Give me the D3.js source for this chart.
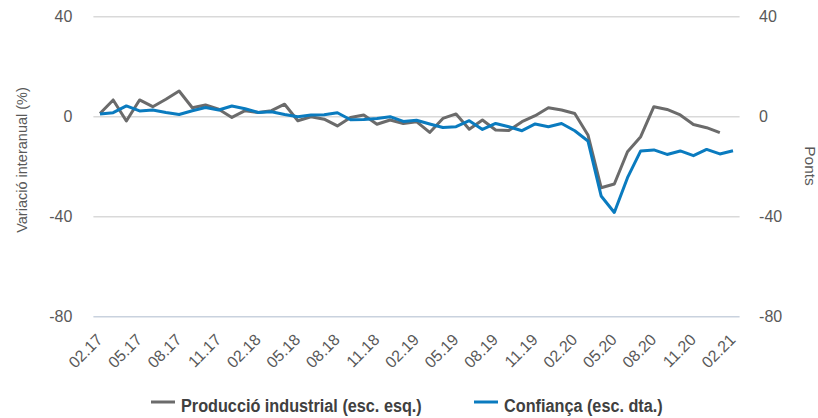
<!DOCTYPE html>
<html>
<head>
<meta charset="utf-8">
<script src="https://cdn.jsdelivr.net/npm/d3@7"></script>
<style>
  html, body { margin: 0; padding: 0; background: #fff; }
  svg { display: block; font-family: "Liberation Sans", Arial, sans-serif; }
</style>
</head>
<body>
<svg id="chart" width="818" height="418"></svg>
<script>
// Monthly periods, 02.17 to 02.21
const months = [
  "02.17","03.17","04.17","05.17","06.17","07.17","08.17","09.17","10.17","11.17","12.17","01.18",
  "02.18","03.18","04.18","05.18","06.18","07.18","08.18","09.18","10.18","11.18","12.18","01.19",
  "02.19","03.19","04.19","05.19","06.19","07.19","08.19","09.19","10.19","11.19","12.19","01.20",
  "02.20","03.20","04.20","05.20","06.20","07.20","08.20","09.20","10.20","11.20","12.20","01.21",
  "02.21"
];
// Labelled ticks on the x axis
const tickLabels = ["02.17","05.17","08.17","11.17","02.18","05.18","08.18","11.18","02.19",
  "05.19","08.19","11.19","02.20","05.20","08.20","11.20","02.21"];

// Industrial production, year-on-year change (%) — left scale, up to 01.21
const produccio = [
  1.3, 6.7, -1.7, 6.7, 4.0, 7.0, 10.3, 3.6, 4.7, 3.0, -0.3, 2.4,
  1.7, 2.4, 5.0, -1.6, 0.0, -1.0, -3.7, -0.3, 0.7, -3.0, -1.3, -2.7,
  -2.0, -6.3, -0.7, 1.1, -5.0, -1.3, -5.3, -5.5, -2.0, 0.4, 3.6, 2.7,
  1.3, -7.3, -28.4, -26.9, -14.0, -8.0, 4.0, 2.9, 0.7, -3.1, -4.4, -6.4
];
// Confidence indicator (points) — right scale
const confianca = [
  1.1, 1.6, 4.3, 2.3, 2.7, 1.7, 0.9, 2.4, 3.7, 2.7, 4.3, 3.2,
  1.7, 2.0, 0.9, 0.0, 0.7, 0.8, 1.6, -1.2, -1.1, -0.7, 0.0, -1.9,
  -1.4, -2.9, -4.3, -4.0, -1.6, -5.1, -2.7, -4.0, -5.6, -2.9, -4.0, -2.7,
  -5.6, -9.7, -31.7, -38.3, -24.4, -13.7, -13.3, -15.1, -13.7, -15.6, -13.1, -14.9,
  -13.6
];

const yTicks = [40, 0, -40, -80];
const seriesNames = ["Producció industrial (esc. esq.)", "Confiança (esc. dta.)"];
const colors = ["#6b6b6b", "#0a7bbf"];

const svg = d3.select("#chart");
const plotLeft = 93.4, plotRight = 739.6, plotTop = 16.7, plotBottom = 316.7;
const axisFont = "Liberation Sans, Arial, sans-serif";

const x = d3.scalePoint().domain(months).range([plotLeft, plotRight]).padding(0.5);
const yL = d3.scaleLinear().domain([-80, 40]).range([plotBottom, plotTop]);
const yR = d3.scaleLinear().domain([-80, 40]).range([plotBottom, plotTop]);
const plainNum = d => String(d);

// Horizontal gridlines
svg.append("g").selectAll("line").data(yTicks).join("line")
  .attr("x1", plotLeft).attr("x2", plotRight)
  .attr("y1", d => yL(d)).attr("y2", d => yL(d))
  .attr("stroke", d => d === -80 ? "#c9d2de" : "#d9d9d9")
  .attr("stroke-width", 1.5);

// Left axis
const axisL = svg.append("g").attr("transform", `translate(${plotLeft},0)`)
  .call(d3.axisLeft(yL).tickValues(yTicks).tickFormat(plainNum).tickSize(0).tickPadding(21));
axisL.select(".domain").remove();
axisL.selectAll("text").attr("font-size", 16).attr("fill", "#595959").attr("font-family", axisFont);

// Right axis
const axisR = svg.append("g").attr("transform", `translate(${plotRight},0)`)
  .call(d3.axisRight(yR).tickValues(yTicks).tickFormat(plainNum).tickSize(0).tickPadding(19.5));
axisR.select(".domain").remove();
axisR.selectAll("text").attr("font-size", 16).attr("fill", "#595959").attr("font-family", axisFont);

// Bottom axis with rotated labels
const axisB = svg.append("g").attr("transform", `translate(0,${plotBottom})`)
  .call(d3.axisBottom(x).tickValues(tickLabels).tickSize(0).tickPadding(0));
axisB.select(".domain").remove();
axisB.selectAll("text")
  .attr("font-size", 16).attr("fill", "#595959").attr("font-family", axisFont)
  .attr("text-anchor", "end")
  .attr("dy", null).attr("y", 0)
  .attr("transform", "translate(3,24) rotate(-45)");

// Axis titles
svg.append("text")
  .attr("transform", `translate(27,160) rotate(-90)`)
  .attr("text-anchor", "middle")
  .attr("font-size", 14.5).attr("fill", "#595959")
  .text("Variació interanual (%)");
svg.append("text")
  .attr("transform", `translate(805,166) rotate(90)`)
  .attr("text-anchor", "middle")
  .attr("font-size", 15.5).attr("fill", "#595959")
  .text("Ponts");

// Lines
const lineL = d3.line().x((d, i) => x(months[i])).y(d => yL(d));
const lineR = d3.line().x((d, i) => x(months[i])).y(d => yR(d));

svg.append("path").datum(produccio)
  .attr("d", lineL).attr("fill", "none")
  .attr("stroke", colors[0]).attr("stroke-width", 3).attr("stroke-linejoin", "round");
svg.append("path").datum(confianca)
  .attr("d", lineR).attr("fill", "none")
  .attr("stroke", colors[1]).attr("stroke-width", 3).attr("stroke-linejoin", "round");

// Legend (condensed bold labels)
const legend = svg.append("g");
const legendItems = [
  { name: seriesNames[0], color: colors[0], x: 151 },
  { name: seriesNames[1], color: colors[1], x: 474 }
];
legendItems.forEach(it => {
  legend.append("line")
    .attr("x1", it.x).attr("x2", it.x + 24)
    .attr("y1", 402).attr("y2", 402)
    .attr("stroke", it.color).attr("stroke-width", 3);
  legend.append("text")
    .attr("transform", `translate(${it.x + 30},411.5) scale(0.855,1)`)
    .attr("font-size", 19).attr("font-weight", "bold").attr("fill", "#404040")
    .text(it.name);
});
</script>
</body>
</html>
